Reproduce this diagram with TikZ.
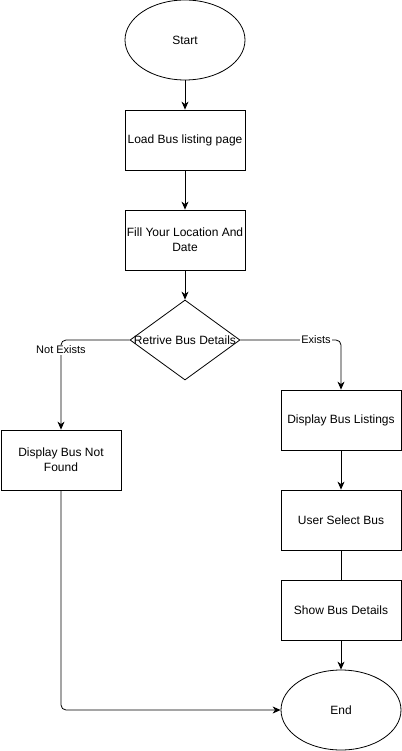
\documentclass[tikz,border=0pt]{standalone}
\usepackage{fontspec}
\setmainfont{Liberation Sans}
\usetikzlibrary{shapes.geometric,arrows.meta}
\begin{document}
\begin{tikzpicture}[x=1pt,y=-1pt,
  every node/.style={font=\fontsize{12}{15}\selectfont},
  term/.style={draw,ellipse,line width=0.8pt,minimum width=120pt,minimum height=80pt,inner sep=0pt},
  procbox/.style={draw,rectangle,line width=0.8pt,minimum width=120pt,minimum height=60pt,inner sep=0pt,align=center},
  decision/.style={draw,diamond,line width=0.8pt,minimum width=110pt,minimum height=80pt,inner sep=0pt},
  conn/.style={line width=0.8pt,-{Stealth[length=8pt,width=7pt,inset=2.5pt]}},
  plainconn/.style={line width=0.8pt},
  lbl/.style={fill=white,inner sep=1pt,font=\fontsize{11}{13}\selectfont}]
\useasboundingbox (0,0) rectangle (401,751);
\node[term] (start) at (185,40) {Start};
\node[procbox] (load) at (185,140) {Load Bus listing page};
\node[procbox] (fill) at (185,240) {Fill Your Location And\\Date};
\node[decision] (dec) at (185,340) {};
\node (dectext) at (185,340) {Retrive Bus Details};
\node[procbox] (nf) at (61,460) {Display Bus Not\\Found};
\node[procbox] (list) at (341,420) {Display Bus Listings};
\node[procbox] (sel) at (341,520) {User Select Bus};
\node[procbox] (show) at (341,610) {Show Bus Details};
\node[term] (end) at (341,710) {End};
\draw[conn] (start) -- (load);
\draw[conn] (load) -- (fill);
\draw[conn] (fill) -- (dec);
\draw[conn,rounded corners=5pt] (dec.west) -| (nf.north);
\draw[conn,rounded corners=5pt] (dec.east) -| (list.north);
\draw[conn] (list) -- (sel);
\draw[plainconn] (sel) -- (show);
\draw[conn] (show) -- (end);
\draw[conn,rounded corners=5pt] (nf.south) |- (end.west);
\node[lbl] (lne) at (61,350) {Not Exists};
\node[lbl] (lex) at (316,340) {Exists};
\end{tikzpicture}
\end{document}
